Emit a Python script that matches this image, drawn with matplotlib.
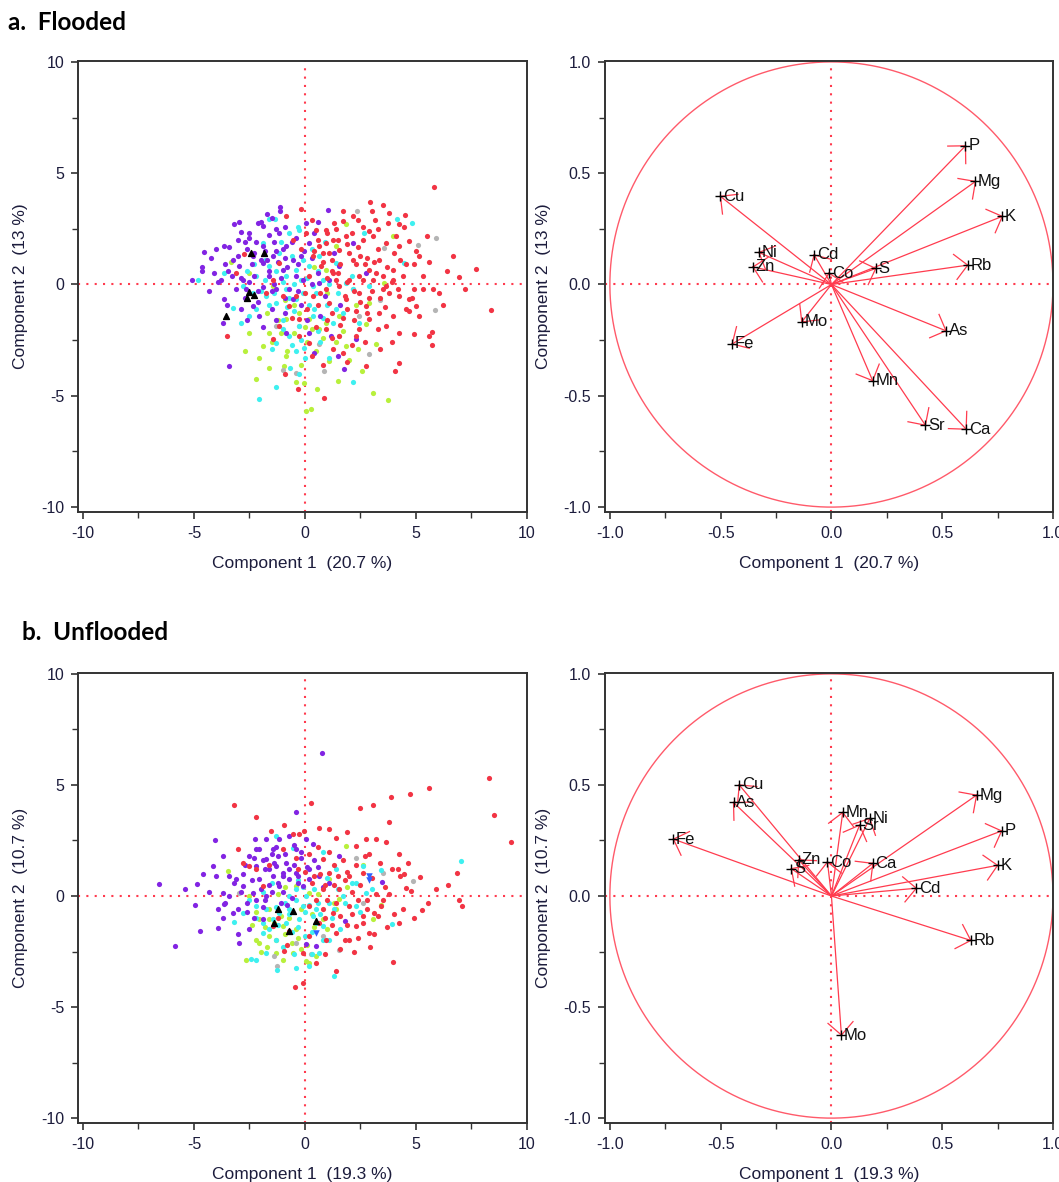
import numpy as np
import matplotlib
matplotlib.use('Agg')
import matplotlib.pyplot as plt

plt.rcParams['font.family'] = ['Liberation Sans', 'DejaVu Sans']
plt.rcParams['axes.unicode_minus'] = False

# ---------------- data: flooded scores (PC1, PC2) ----------------
fl_red = [(5.8,4.38),(2.94,3.69),(3.5,3.57),(3.8,3.2),(3.14,2.9),(3.75,2.76),(4.25,2.7),(4.47,2.6),
          (2.15,3.06),(1.73,2.84),(1.32,2.77),(0.95,2.47),(0.5,2.47),(0.05,2.3),(2.6,2.0),(3.05,2.17),
          (3.65,1.87),(4.25,1.72),(4.7,1.94),(5.15,1.27),(6.65,1.3),(7.7,0.7),(6.92,0.33),(8.4,-1.15),
          (6.05,-0.37),(5.75,-0.22),(5.3,-0.22),(4.92,-0.22),(4.67,-0.67),(5.0,-0.97),(5.15,-1.42),
          (4.55,-1.09),(4.25,-0.52),(3.8,-0.37),(3.65,-0.07),(3.95,0.22),(3.5,0.37),(3.05,0.22),(2.9,0.67),
          (3.95,0.67),(4.55,0.9),(4.3,1.12),(3.35,1.12),(2.15,1.12),(1.55,1.57),(1.1,1.42),(0.95,1.87),
          (1.85,2.17),(1.25,2.02),(0.65,1.72),(0.35,1.27),(0.72,0.82),(1.25,0.52),(2.0,0.22),(2.45,0.37),
          (1.55,-0.07),(0.95,-0.22),(0.35,-0.52),(1.1,-0.82),(1.85,-0.67),(2.45,-0.37),(2.75,-0.97),
          (3.35,-1.27),(3.95,-1.42),(4.25,-2.17),(4.92,-2.24),(5.6,-2.32),(5.72,-2.72),(5.72,-2.14),
          (3.65,-1.87),(2.9,-1.57),(2.45,-2.02),(2.3,-2.32),(1.55,-2.32),(0.95,-2.02),(0.2,-2.62),
          (1.25,-2.91),(1.7,-3.06),(2.75,-3.66),(4.25,-3.51),(4.05,-3.89),(0.87,-5.08),(-0.33,-4.68),
          (-3.53,-2.33),(-0.86,3.06),(-0.56,2.02),(-1.16,0.97),(-1.46,0.22),(-1.76,-0.37),(-0.71,-0.97),
          (-0.26,-1.57),(-1.16,-1.87),(-1.46,-2.47),(-0.26,-2.32),(-3.1,0.52),(-2.73,1.35),
          (0.4,1.5),(0.8,1.0),(1.2,0.6),(1.6,0.9),(2.0,1.4),(2.4,1.7),(2.8,1.2),(3.2,0.5),(2.6,0.2),
          (2.2,-0.3),(1.8,-0.5),(1.4,0.2),(1.0,0.3),(0.6,-0.9),(1.2,-1.3),(1.9,-1.1),(2.5,-0.8),(3.0,-0.3),
          (3.4,-0.6),(3.7,0.8),(4.0,1.4),(3.3,1.6),(2.9,2.4),(2.1,2.3),(1.5,2.0),(1.0,2.3),(0.2,0.4),
          (0.0,-0.4),(-0.4,-0.5),(0.5,-1.9),(1.6,-1.8),(2.2,-1.6),(2.8,-1.3),(3.6,-1.0),(4.4,0.4),(4.9,0.9),
          (5.3,0.4),(4.7,-1.2),(3.9,-2.6),(3.3,-2.0),(2.1,-2.7),(1.2,-2.4),(0.3,-3.2),(4.5,3.1),(5.6,1.0),
          (6.2,-0.9),(-0.2,3.4),(3.0,3.3),(2.4,2.9),
          (0.6,2.0),(1.4,2.5),(1.9,1.8),(2.3,0.9),(2.7,0.9),(3.1,1.0),(3.5,-0.2),(2.9,-0.6),(2.3,-1.2),
          (1.7,-1.5),(1.0,-1.6),(0.7,-0.4),(1.5,0.5),(1.9,0.1),(0.8,1.4),(1.2,1.1),(2.5,1.3),(3.9,0.1),
          (4.2,-0.2),(4.1,2.2),(2.6,2.6),(1.7,3.3),(3.3,2.5),(0.1,-1.1),(-0.6,-1.5),(-1.0,-0.5),(-0.2,1.6),
          (0.3,2.9),(4.8,-0.6),(2.7,-2.6),(3.4,-2.9),(1.9,-3.5),(0.8,-3.6),(-0.9,-4.0),(5.0,1.5),(5.5,2.2),
          (6.4,0.6),(7.2,-0.2)]
fl_purple = [(-1.11,3.48),(-1.13,3.29),(-1.71,3.17),(-3.18,2.72),(-2.99,2.81),(-2.88,2.36),(-2.13,2.77),
             (-1.91,2.62),(-1.61,2.24),(-2.51,2.09),(-3.63,1.72),(-4.53,1.45),(-4.23,1.17),(-4.64,0.79),
             (-4.64,0.6),(-5.1,0.22),(-3.26,1.12),(-2.96,0.82),(-3.48,0.6),(-2.81,0.22),(-3.78,0.22),
             (-3.63,-0.67),(-3.71,-1.75),(-3.41,-3.66),(-2.36,-0.97),(-2.06,-1.42),(-1.91,1.72),(-1.46,1.27),
             (-0.86,1.72),(-0.56,1.12),(-0.03,1.49),(0.05,2.77),(1.05,3.36),(0.57,2.8),(0.2,1.87),(-1.0,0.67),
             (-1.31,-0.22),(-0.1,0.22),(0.65,0.07),(1.1,0.22),(1.55,0.82),(2.15,1.87),(2.75,0.52),(-0.56,-0.67),
             (-0.86,-2.17),(0.2,-2.17),(1.17,-2.32),(1.47,-3.21),(1.77,-3.81),(2.3,-2.47),(0.42,-3.06),
             (-2.36,1.27),(-2.66,-0.22),(-1.91,0.97),(-1.61,0.37),(-1.16,2.32),
             (-2.6,1.6),(-2.2,1.9),(-1.8,1.5),(-1.4,1.9),(-1.0,1.6),(-0.6,1.9),(-2.4,0.9),(-2.0,1.1),(-1.6,0.6),
             (-1.2,1.0),(-0.8,0.8),(-0.3,0.9),(-2.9,0.3),(-2.3,0.4),(-1.9,-0.1),(-1.1,0.3),(-0.7,-0.2),(-0.4,0.4),
             (-3.0,1.3),(-3.3,0.4),(-2.7,-0.6),(-2.1,-0.8),(-1.5,-1.1),(-0.9,-1.3),(-3.1,-0.2),(-1.3,2.5),
             (-0.4,2.1),(0.3,1.2),(0.6,0.5),(0.9,-0.5),(1.3,1.4),(-0.2,-0.9),(0.1,-1.6),(-1.9,-1.9),(-2.5,2.3),
             (-3.6,0.9),(-4.0,1.6),(-3.9,0.1),(-4.3,-0.3),(-2.0,2.8),(-1.5,3.0),(-0.9,2.6),
             (-3.4,1.7),(-2.7,1.9),(-2.3,1.4),(-1.7,1.1),(-1.3,1.5),(-0.9,1.2),(-2.5,0.1),(-2.1,-0.3),(-1.5,-0.3),
             (-3.5,-0.9),(-2.9,-1.1),(-4.1,0.5),(-3.0,2.0),(-0.2,1.3),(0.4,2.3),(-1.4,0.0),(-0.9,-0.6),(-2.6,-1.6),
             (-1.3,-1.6),(-0.3,-0.3),(0.3,0.0),(1.6,-0.9),(0.7,-1.4)]
fl_cyan = [(-1.64,2.96),(-1.35,2.96),(-0.71,2.32),(-0.26,2.47),(4.14,2.96),(4.8,2.77),(4.47,0.97),(2.67,2.32),
           (-1.91,1.87),(-2.21,0.37),(-2.81,-0.07),(-3.26,-1.05),(-2.88,-1.75),(-2.36,-0.37),(-1.76,-0.52),
           (-1.31,-0.82),(-0.86,-0.22),(-0.41,-0.67),(-0.1,-0.37),(0.35,-0.07),(0.8,0.22),(-0.86,0.37),
           (-0.41,0.67),(0.2,0.82),(0.65,1.27),(1.4,0.97),(1.85,0.07),(2.15,-0.22),(1.7,-1.27),(1.25,-1.72),
           (0.35,-1.42),(-0.26,-1.87),(-0.71,-2.32),(-1.31,-2.62),(-0.41,-2.99),(-0.03,-2.84),(-0.68,-3.74),
           (-0.26,-4.04),(-1.31,-4.59),(-2.06,-5.13),(2.15,-4.38),(2.45,-1.72),(2.9,-0.07),(-1.16,1.42),
           (-1.61,0.82),(-3.63,0.52),(-4.8,0.19),
           (-1.0,0.1),(-0.5,0.0),(0.1,0.3),(0.5,-0.4),(1.0,-0.9),(-0.8,-1.0),(-1.6,-0.9),(-2.0,-0.3),(-1.3,0.6),
           (-0.6,1.3),(0.3,1.6),(0.9,1.9),(-1.8,1.1),(-0.2,-2.5),(-1.0,-2.0),(0.7,-2.6),(1.5,-0.4),(2.1,0.4),
           (-2.5,-1.4),(-1.5,-2.9),(0.0,-3.3),(0.4,-1.1),(-0.3,2.6),(1.1,-3.3),
           (-1.4,-0.4),(-0.7,-0.6),(-0.2,0.2),(0.6,0.6),(1.1,0.0),(-2.3,0.9),(-1.8,0.2),(-1.0,-1.6),(-0.5,-1.2),
           (0.2,-0.9),(0.8,-1.5),(1.4,-1.1),(-2.2,-1.1),(-0.1,1.1),(-1.1,1.9),(-2.6,0.6),(0.6,-2.1),(-0.6,-2.7)]
fl_green = [(1.85,2.72),(3.54,0.07),(2.9,-0.82),(2.75,-1.79),(0.95,-1.72),(1.55,-1.42),(0.65,-2.02),(0.2,-1.57),
            (-0.26,-1.27),(-0.86,-1.57),(-1.61,-2.17),(-1.91,-2.77),(-2.06,-3.29),(-0.86,-3.21),(-0.93,-3.66),
            (-1.61,-3.74),(-2.21,-4.26),(-0.03,-4.44),(0.05,-5.68),(0.27,-5.61),(0.54,-4.68),(1.47,-4.33),
            (2.55,-3.89),(3.05,-4.86),(3.72,-5.2),(3.2,-2.69),(1.1,-3.44),(1.85,-2.77),(-3.33,1.02),(-2.51,0.52),
            (-1.46,-0.07),(0.95,0.67),(3.95,2.17),(1.4,1.72),
            (-1.2,-1.6),(-0.5,-2.2),(0.1,-2.6),(0.8,-2.4),(-1.5,-2.6),(-0.8,-3.0),(-0.2,-3.6),(1.4,-2.6),
            (2.0,-3.4),(-2.5,-2.2),(1.0,-0.4),(-0.5,-0.9),(0.4,0.8),(2.3,-0.9),
            (-1.7,-1.3),(-1.1,-2.2),(0.3,-2.0),(0.5,-3.0),(-0.4,-4.4),(1.7,-2.1),(2.4,-2.9),(-2.7,-3.0),
            (0.0,-1.9),(-0.9,-0.7)]
fl_gray = [(2.34,3.32),(5.9,2.09),(5.07,1.79),(3.54,1.64),(3.39,-0.7),(5.87,-1.15),(2.15,-0.22),(2.45,-1.42),
           (1.55,-2.32),(0.87,-3.89),(-1.01,-3.86),(-0.41,-3.96),(0.65,-2.69),(2.9,-3.14),(-1.31,-1.87),(-0.26,-1.87)]
fl_black = [(-2.42,1.42),(-1.86,1.42),(-2.54,-0.33),(-2.63,-0.6),(-2.28,-0.45),(-3.56,-1.42)]

# ---------------- data: unflooded scores ----------------
uf_red = [(8.27,5.3),(5.6,4.85),(4.73,4.59),(3.87,4.44),(3.08,4.11),(2.48,3.96),(8.53,3.64),(9.28,2.44),(3.8,3.31),
          (-3.18,4.11),(-2.21,3.57),(0.27,4.17),(0.65,3.04),(-0.96,3.19),(-0.56,2.81),(-0.26,2.81),(1.4,2.63),
          (2.75,2.56),(3.2,2.56),(3.65,2.41),(2.3,2.26),(2.9,1.88),(4.25,1.88),(4.62,1.5),(4.17,1.2),(4.47,0.98),
          (5.19,0.87),(4.55,0.38),(4.77,0.23),(6.87,1.02),(6.42,0.48),(6.92,-0.18),(7.07,-0.45),(5.27,-0.63),
          (5.53,-0.3),(4.4,-0.57),(4.25,-1.23),(3.8,0.08),(3.42,-0.45),(3.12,-0.75),(2.6,-0.9),(2.9,-1.66),
          (3.12,-1.73),(2.94,-2.3),(3.98,-2.98),(1.41,-3.36),(1.4,-1.66),(0.95,-1.96),(2.0,-1.96),(2.3,-1.35),
          (2.0,-0.45),(1.55,0.3),(2.0,0.9),(2.6,1.05),(1.1,1.05),(0.8,0.3),(0.2,-0.45),(1.25,-0.75),(0.65,-1.2),
          (0.8,1.66),(-0.11,-2.56),(-0.11,-3.91),(-0.45,-4.11),(-0.93,-2.48),(-0.71,-1.58),(-1.46,-1.35),
          (-1.91,0.45),(-2.51,1.35),(-3.03,2.11),(-2.81,1.5),(-1.53,2.93),(-1.01,2.11),(-0.03,2.93),
          (0.3,0.6),(0.7,1.0),(1.0,-0.2),(1.3,0.5),(1.8,0.7),(2.1,0.2),(2.5,0.5),(2.8,-0.2),(1.6,-0.9),(1.2,-1.3),
          (2.1,-0.8),(2.6,-1.2),(3.3,-0.9),(3.0,0.8),(3.6,0.4),(0.5,-0.2),(0.0,1.1),(-0.3,1.2),(1.7,1.6),(2.3,1.4),
          (1.1,2.0),(0.6,2.2),(-1.6,1.4),(-2.2,1.2),(-0.8,-2.2),(0.9,-2.6),(1.8,-2.0),(2.4,-1.9),(4.0,-0.8),
          (3.7,-1.4),(0.2,-1.8),
          (0.4,0.9),(0.9,0.5),(1.5,0.9),(1.9,1.1),(2.4,-0.2),(1.4,-0.3),(0.8,-0.6),(1.9,-1.3),(2.8,-0.6),(3.2,0.1),
          (2.7,1.8),(3.4,1.5),(1.3,1.4),(0.2,1.9),(0.9,-1.0),(1.6,-2.4),(2.2,-2.5),(3.5,-0.2),(4.3,0.9),(3.9,1.2),
          (-0.4,1.7),(-1.2,-1.0),(0.5,-3.0),(1.1,3.0),(1.9,2.9),(4.9,-1.0),(5.9,0.3)]
uf_purple = [(0.75,6.44),(-0.41,3.79),(-2.25,2.56),(-4.04,2.51),(-6.59,0.56),(-5.86,-2.26),(-4.73,-1.58),
             (-5.39,0.3),(-4.88,0.56),(-4.94,-0.42),(-4.16,1.35),(-4.0,0.9),(-3.71,1.81),(-3.71,0.15),(-3.63,-0.38),
             (-3.71,-0.98),(-3.9,-1.43),(-2.96,-2.11),(-3.03,-1.73),(-3.26,-0.75),(-3.41,0.0),(-3.11,0.75),
             (-2.81,0.45),(-2.51,1.81),(-2.06,2.11),(-1.76,2.56),(-1.46,2.11),(-1.16,2.56),(-0.71,2.71),(0.05,2.56),
             (0.35,2.33),(-0.41,2.11),(-2.21,1.35),(-1.76,1.66),(-1.31,1.35),(-0.86,1.5),(-0.41,1.05),(0.2,1.2),
             (0.65,0.9),(1.1,0.6),(-1.46,0.9),(-2.06,0.75),(-2.36,0.15),(-1.76,0.0),(-1.16,0.45),(-0.71,0.75),
             (-1.01,1.05),(-1.61,1.2),(0.2,0.75),(-0.11,0.45),(-2.51,-1.5),(-1.91,-1.05),(0.05,-2.18),(0.5,-2.26),
             (1.82,-1.13),(3.47,0.63),(1.55,1.81),
             (-2.8,1.0),(-2.4,0.7),(-1.9,1.6),(-1.5,1.9),(-1.2,0.6),(-0.9,1.9),(-0.5,1.4),(-0.2,1.7),(0.1,1.3),
             (-2.0,0.3),(-1.6,0.5),(-1.0,0.2),(-0.3,0.6),(-3.2,0.6),(-2.6,-0.3),(-1.9,-0.5),(-3.0,-0.6),(-1.3,2.2),
             (-0.5,2.3),(-2.2,2.1),(0.4,1.6),(0.8,0.4),(-4.3,0.2),(-3.6,-0.3),(-2.3,-1.0),(-1.1,-0.3),(-0.6,-0.1),
             (-2.7,1.4),(-2.3,1.7),(-1.8,1.2),(-1.4,1.5),(-1.0,0.9),(-0.7,1.2),(-0.3,0.9),(-2.9,0.2),(-2.2,-0.2),
             (-1.5,0.2),(-1.8,-0.2),(-3.4,0.9),(-2.6,-0.7),(-1.2,1.8),(-0.2,2.0),(0.6,1.3),(-4.6,1.0),(-3.9,-0.6),
             (-0.8,-0.4)]
uf_cyan = [(7.02,1.58),(-1.31,2.71),(-0.56,2.18),(0.8,1.96),(1.4,1.2),(2.6,1.35),(3.42,1.16),(2.3,0.6),(1.7,0.0),
           (1.1,-0.3),(0.5,-0.6),(-0.11,-0.45),(-0.71,-0.6),(-1.16,-0.75),(-1.46,-1.05),(-0.86,-1.2),(-0.26,-1.05),
           (0.35,-0.9),(0.8,-1.35),(1.1,-1.96),(0.65,-2.56),(0.2,-3.16),(-0.41,-3.24),(-1.26,-3.34),(-2.21,-2.89),
           (-2.43,-2.83),(-1.76,-2.56),(-1.31,-1.96),(-1.91,-1.66),(-2.81,-0.75),(-3.18,-1.17),(-2.21,-0.45),
           (-1.76,-0.6),(2.3,-0.45),(2.75,0.15),(3.92,-1.28),(1.29,-3.58),(-0.41,0.3),(-0.71,0.0),(0.05,0.0),
           (-0.9,-0.3),(-0.4,-0.2),(0.2,-0.4),(0.7,-0.8),(1.3,-0.6),(1.8,-0.3),(-1.2,-1.3),(-0.6,-1.6),(0.0,-1.8),
           (0.5,-1.2),(-2.5,-0.2),(-1.9,-1.2),(-0.3,0.7),(0.4,0.3),(1.0,0.8),(-1.0,-2.3),(0.3,-2.6),(2.5,-0.7),
           (3.0,0.3),(-1.5,0.6),
           (-1.3,-0.5),(-0.7,-0.8),(0.0,-0.7),(0.6,-0.3),(1.2,-1.0),(1.6,-1.5),(-0.3,-1.4),(0.3,-1.6),(-1.6,-1.5),
           (-2.2,-1.0),(-0.5,-2.6),(0.8,-2.0),(1.5,0.3),(2.1,0.6),(-0.1,0.4),(-1.9,0.2)]
uf_green = [(-2.06,-1.05),(-2.21,-1.96),(-2.06,-2.11),(-1.61,-1.81),(-2.66,-2.86),(-1.31,-2.56),(-0.56,-2.56),
            (0.05,-2.93),(0.2,-3.01),(-1.01,-1.35),(-0.41,-1.5),(0.8,-1.05),(1.4,-0.6),(1.55,-0.15),(0.2,0.15),
            (-0.41,0.45),(1.1,0.75),(1.85,2.26),(2.6,1.38),(3.42,-0.42),(-2.51,0.0),(-3.48,1.13),(-1.61,-1.05),
            (3.05,-1.05),
            (-1.6,-0.6),(-1.1,-0.9),(-0.7,-1.0),(-0.2,-0.6),(0.3,-0.8),(-1.8,-1.4),(-1.3,-2.0),(-0.6,-2.1),
            (0.1,-2.2),(1.0,-1.5),(-2.4,-1.3),(-0.9,0.4),(0.6,0.1),(1.9,0.4),(-2.0,-2.5),(-1.0,-2.9),
            (-1.4,-1.2),(-0.9,-1.7),(-0.3,-1.9),(0.4,-1.4),(-2.2,-0.7),(-1.7,-2.3),(-0.2,-2.4),(0.5,-2.7),
            (1.3,-0.3),(-1.2,0.1)]
uf_gray = [(2.3,1.73),(3.5,1.05),(4.85,0.68),(2.6,-0.3),(1.55,-2.41),(0.8,-1.81),(-0.41,-2.11),(-1.26,-3.16),
           (-1.38,-2.71),(0.27,-2.63),(-1.01,0.9),(-2.96,0.15)]
uf_black = [(-1.23,-0.6),(-0.53,-0.68),(-1.38,-1.2),(-0.71,-1.58),(0.5,-1.13)]
uf_blue = [(2.9,0.9),(2.9,0.7),(0.5,-1.66)]

# ---------------- data: loadings ----------------
fl_vars = ['P', 'Mg', 'K', 'Rb', 'S', 'Co', 'Cd', 'Ni', 'Zn', 'Cu', 'Mo', 'Fe', 'As', 'Mn', 'Sr', 'Ca']
fl_pc1 = [0.605, 0.65, 0.771, 0.615, 0.2, -0.011, -0.078, -0.327, -0.354, -0.501, -0.134, -0.448, 0.517, 0.186, 0.424, 0.608]
fl_pc2 = [0.623, 0.463, 0.306, 0.087, 0.072, 0.051, 0.133, 0.144, 0.079, 0.396, -0.168, -0.267, -0.208, -0.432, -0.632, -0.65]

uf_vars = ['Cu', 'As', 'Fe', 'Mn', 'Ni', 'Sr', 'Zn', 'S', 'Co', 'Ca', 'Mg', 'P', 'K', 'Cd', 'Rb', 'Mo']
uf_pc1 = [-0.416, -0.442, -0.713, 0.051, 0.173, 0.127, -0.148, -0.181, -0.018, 0.187, 0.655, 0.768, 0.75, 0.383, 0.629, 0.045]
uf_pc2 = [0.5, 0.421, 0.256, 0.376, 0.349, 0.319, 0.163, 0.123, 0.153, 0.147, 0.454, 0.293, 0.138, 0.035, -0.2, -0.626]

fl_pct = (20.7, 13)
uf_pct = (19.3, 10.7)

txt_col = '#1c1c3c'
red_line = '#ff3b4e'

fig = plt.figure(figsize=(10.59, 11.82), dpi=100)
W, H = 1059.0, 1182.0


def make_ax(x0, y0, x1, y1):
    return fig.add_axes([x0 / W, 1 - y1 / H, (x1 - x0) / W, (y1 - y0) / H])


def style(ax, pct, lim, major, minor):
    ax.set_xlim(-lim * 1.022, lim)
    ax.set_ylim(-lim * 1.022, lim * 1.004)
    ax.set_xticks(np.arange(-lim, lim + 1e-9, major))
    ax.set_yticks(np.arange(-lim, lim + 1e-9, major))
    ax.set_xticks(np.arange(-lim, lim + 1e-9, minor), minor=True)
    ax.set_yticks(np.arange(-lim, lim + 1e-9, minor), minor=True)
    ax.tick_params(which='major', direction='out', length=5, width=1.2, labelsize=11.5, colors='#333333',
                   labelcolor=txt_col, pad=5)
    ax.tick_params(which='minor', direction='out', length=4, width=1.0, colors='#333333')
    for s in ax.spines.values():
        s.set_linewidth(1.4)
        s.set_color('#333333')
    ax.set_xlabel('Component 1  (%s %%)' % pct[0], fontsize=12.5, color=txt_col, labelpad=11)
    ax.set_ylabel('Component 2  (%s %%)' % pct[1], fontsize=12.5, color=txt_col, labelpad=9)
    ax.axhline(0, color=red_line, ls=(0, (1, 3)), lw=1.5, zorder=1)
    ax.axvline(0, color=red_line, ls=(0, (1, 3)), lw=1.5, zorder=1)


def scores(ax, groups, pct, blue=None):
    style(ax, pct, 10, 5, 2.5)
    ax.xaxis.set_major_formatter(plt.FormatStrFormatter('%d'))
    ax.yaxis.set_major_formatter(plt.FormatStrFormatter('%d'))
    for pts, col in groups:
        p = np.array(pts)
        ax.scatter(p[:, 0], p[:, 1], s=14, c=col, marker='o', linewidths=0, zorder=2)
    if blue is not None:
        b = np.array(blue)
        ax.scatter(b[:, 0], b[:, 1], s=22, c='#3060ff', marker='v', linewidths=0, zorder=3)


def loadings(ax, names, pc1, pc2, pct):
    style(ax, pct, 1.0, 0.5, 0.25)
    ax.xaxis.set_major_formatter(plt.FormatStrFormatter('%.1f'))
    ax.yaxis.set_major_formatter(plt.FormatStrFormatter('%.1f'))
    t = np.linspace(0, 2 * np.pi, 400)
    ax.plot(np.cos(t), np.sin(t), color='#ff5a6a', lw=1.0, zorder=1)
    for n, x, y in zip(names, pc1, pc2):
        ax.plot([0, x], [0, y], color=red_line, lw=0.9, zorder=2)
        a = np.arctan2(y, x) + np.pi
        for d in (-np.pi / 4, np.pi / 4):
            ax.plot([x, x + 0.08 * np.cos(a + d)], [y, y + 0.08 * np.sin(a + d)], color=red_line, lw=0.9, zorder=2)
        ax.plot(x, y, marker='+', color='black', ms=7, mew=1.0, zorder=3)
        ax.text(x + 0.012, y, n, fontsize=12, color='#111111', ha='left', va='center', zorder=4)


ax1 = make_ax(78, 61, 527, 512)
scores(ax1, [(fl_green, '#b8f03c'), (fl_gray, '#b4b4b4'), (fl_cyan, '#3ef0f0'),
             (fl_purple, '#8224e3'), (fl_red, '#f23444')], fl_pct)
ax1.scatter(np.array(fl_black)[:, 0], np.array(fl_black)[:, 1], s=18, c='black', marker='^', zorder=3)

ax2 = make_ax(605, 61, 1053, 512)
loadings(ax2, fl_vars, fl_pc1, fl_pc2, fl_pct)

ax3 = make_ax(78, 673, 527, 1123)
scores(ax3, [(uf_green, '#b8f03c'), (uf_gray, '#b4b4b4'), (uf_cyan, '#3ef0f0'),
             (uf_purple, '#8224e3'), (uf_red, '#f23444')], uf_pct, blue=uf_blue)
ax3.scatter(np.array(uf_black)[:, 0], np.array(uf_black)[:, 1], s=18, c='black', marker='^', zorder=3)

ax4 = make_ax(605, 673, 1053, 1123)
loadings(ax4, uf_vars, uf_pc1, uf_pc2, uf_pct)

fig.text(8 / W, 1 - 22 / H, 'a.  Flooded', fontsize=17.5, fontweight='bold', family=['Lato', 'DejaVu Sans'],
         ha='left', va='center')
fig.text(22 / W, 1 - 632 / H, 'b.  Unflooded', fontsize=17.5, fontweight='bold', family=['Lato', 'DejaVu Sans'],
         ha='left', va='center')

fig.savefig('out.png', dpi=100)
